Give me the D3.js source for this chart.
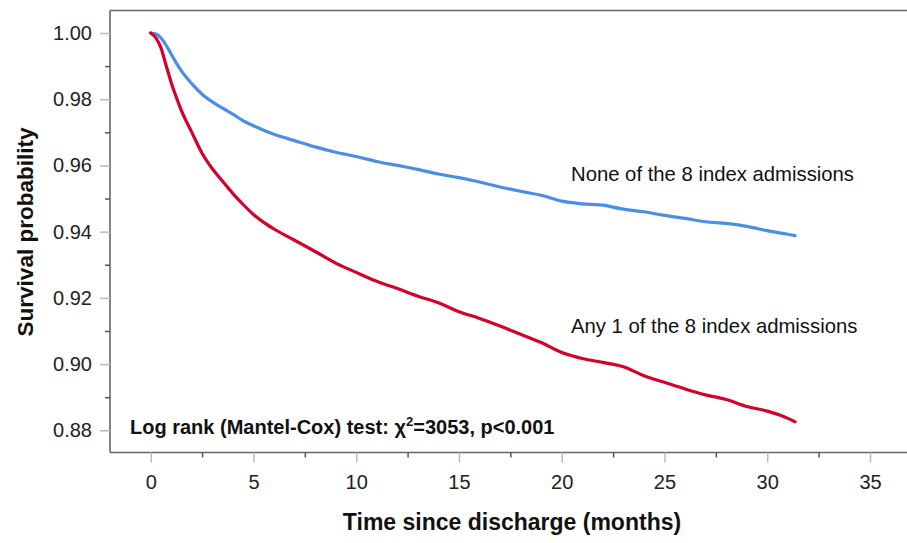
<!DOCTYPE html>
<html>
<head>
<meta charset="utf-8">
<script src="https://cdn.jsdelivr.net/npm/d3@7"></script>
<style>
  body { margin: 0; background: #fff; }
  svg { display: block; font-family: "Liberation Sans", Arial, sans-serif; }
</style>
</head>
<body>
<svg id="chart" width="907" height="543"></svg>
<script>
// ---- data ----
const xTicks = [0, 5, 10, 15, 20, 25, 30, 35];
const xMinorTicks = [2.5, 7.5, 12.5, 17.5, 22.5, 27.5, 32.5];
const yTicks = [0.88, 0.90, 0.92, 0.94, 0.96, 0.98, 1.00];
const yMinorTicks = [0.89, 0.91, 0.93, 0.95, 0.97, 0.99];

const noneMonths = [0, 0.25, 0.5, 0.75, 1.0, 1.25, 1.5, 2.0, 2.5, 3, 3.5, 4, 4.5, 5, 6, 7, 8, 9, 10, 11, 12, 13, 14, 15, 16, 17, 18, 19, 20, 21, 22, 23, 24, 25, 26, 27, 28, 29, 30, 31, 31.35];
const noneSurv = [1.000, 0.9997, 0.9985, 0.9963, 0.9936, 0.9909, 0.9885, 0.9847, 0.9815, 0.9792, 0.9773, 0.9755, 0.9735, 0.9720, 0.9694, 0.9675, 0.9656, 0.9640, 0.9627, 0.9612, 0.9600, 0.9588, 0.9574, 0.9563, 0.9550, 0.9535, 0.9522, 0.9510, 0.9492, 0.9484, 0.9480, 0.9468, 0.9460, 0.9449, 0.9440, 0.9430, 0.9425, 0.9416, 0.9403, 0.9392, 0.9388];

const anyMonths = [0, 0.25, 0.5, 0.75, 1.0, 1.25, 1.5, 2.0, 2.5, 3, 3.5, 4, 4.5, 5, 5.5, 6, 7, 8, 9, 10, 11, 12, 13, 14, 15, 16, 17, 18, 19, 20, 21, 22, 23, 24, 25, 26, 27, 28, 29, 30, 30.6, 31, 31.35];
const anySurv = [1.000, 0.9985, 0.9955, 0.9902, 0.9850, 0.9805, 0.9765, 0.9700, 0.9637, 0.9590, 0.9552, 0.9515, 0.9482, 0.9452, 0.9428, 0.9408, 0.9374, 0.9340, 0.9305, 0.9277, 0.9250, 0.9228, 0.9205, 0.9185, 0.9158, 0.9138, 0.9115, 0.9090, 0.9065, 0.9035, 0.9017, 0.9005, 0.8992, 0.8965, 0.8945, 0.8925, 0.8907, 0.8893, 0.8872, 0.8858, 0.8846, 0.8836, 0.8826];

const seriesNames = ["None of the 8 index admissions", "Any 1 of the 8 index admissions"];
const seriesColors = ["#4a8fe3", "#d2002b"];
const xTitle = "Time since discharge (months)";
const yTitle = "Survival probability";

// ---- layout ----
const svg = d3.select("#chart");
const frameLeft = 110, frameTop = 10.5, frameBottom = 452.5, frameRight = 907;
const x = d3.scaleLinear().domain([0, 35]).range([150.7, 870]);
const y = d3.scaleLinear().domain([0.88, 1.00]).range([430.3, 33]);

// frame lines
const frame = svg.append("g").attr("stroke", "#666").attr("stroke-width", 1.6);
frame.append("line").attr("x1", frameLeft).attr("x2", frameLeft).attr("y1", frameTop).attr("y2", frameBottom);
frame.append("line").attr("x1", frameLeft).attr("x2", frameRight).attr("y1", frameTop).attr("y2", frameTop);
frame.append("line").attr("x1", frameLeft).attr("x2", frameRight).attr("y1", frameBottom).attr("y2", frameBottom);

// y axis
const yAxis = svg.append("g").attr("transform", `translate(${frameLeft},0)`)
  .call(d3.axisLeft(y).tickValues(yTicks).tickFormat(d3.format(".2f")).tickSize(10).tickPadding(8).tickSizeOuter(0));
yAxis.select(".domain").remove();
yAxis.selectAll(".tick line").attr("stroke", "#bbb").attr("stroke-width", 1.5);
yAxis.selectAll(".tick text").attr("font-size", 20).attr("fill", "#222").attr("font-family", "Liberation Sans, Arial, sans-serif");
const yMinor = svg.append("g").attr("transform", `translate(${frameLeft},0)`)
  .call(d3.axisLeft(y).tickValues(yMinorTicks).tickFormat("").tickSize(5).tickSizeOuter(0));
yMinor.select(".domain").remove();
yMinor.selectAll(".tick line").attr("stroke", "#555").attr("stroke-width", 1.5);

// x axis
const xAxis = svg.append("g").attr("transform", `translate(0,${frameBottom})`)
  .call(d3.axisBottom(x).tickValues(xTicks).tickSize(10).tickPadding(12).tickSizeOuter(0));
xAxis.select(".domain").remove();
xAxis.selectAll(".tick line").attr("stroke", "#bbb").attr("stroke-width", 1.5);
xAxis.selectAll(".tick text").attr("font-size", 20).attr("fill", "#222").attr("font-family", "Liberation Sans, Arial, sans-serif");
const xMinor = svg.append("g").attr("transform", `translate(0,${frameBottom})`)
  .call(d3.axisBottom(x).tickValues(xMinorTicks).tickFormat("").tickSize(5).tickSizeOuter(0));
xMinor.select(".domain").remove();
xMinor.selectAll(".tick line").attr("stroke", "#555").attr("stroke-width", 1.5);

// titles
svg.append("text").attr("x", 512).attr("y", 530).attr("text-anchor", "middle")
  .attr("font-size", 23).attr("font-weight", "bold").attr("fill", "#111").text(xTitle);
svg.append("text").attr("transform", "translate(33,232) rotate(-90)").attr("text-anchor", "middle")
  .attr("font-size", 22.5).attr("font-weight", "bold").attr("fill", "#111").text(yTitle);

// curves
const line = d3.line().x(d => x(d[0])).y(d => y(d[1])).curve(d3.curveMonotoneX);
const series = [
  noneMonths.map((m, i) => [m, noneSurv[i]]),
  anyMonths.map((m, i) => [m, anySurv[i]])
];
series.forEach((s, i) => {
  svg.append("path").datum(s).attr("d", line).attr("fill", "none")
    .attr("stroke", seriesColors[i]).attr("stroke-width", 3.2)
    .attr("stroke-linejoin", "round").attr("stroke-linecap", "round");
});

// labels
svg.append("text").attr("x", 571).attr("y", 181).attr("font-size", 20.3).attr("fill", "#111").text(seriesNames[0]);
svg.append("text").attr("x", 571).attr("y", 333).attr("font-size", 20.3).attr("fill", "#111").text(seriesNames[1]);

const lr = svg.append("text").attr("x", 130).attr("y", 434).attr("font-size", 20).attr("font-weight", "bold").attr("fill", "#111");
lr.append("tspan").text("Log rank (Mantel-Cox) test: χ");
lr.append("tspan").attr("font-size", 13).attr("dy", -8).text("2");
lr.append("tspan").attr("dy", 8).text("=3053, p<0.001");
</script>
</body>
</html>
